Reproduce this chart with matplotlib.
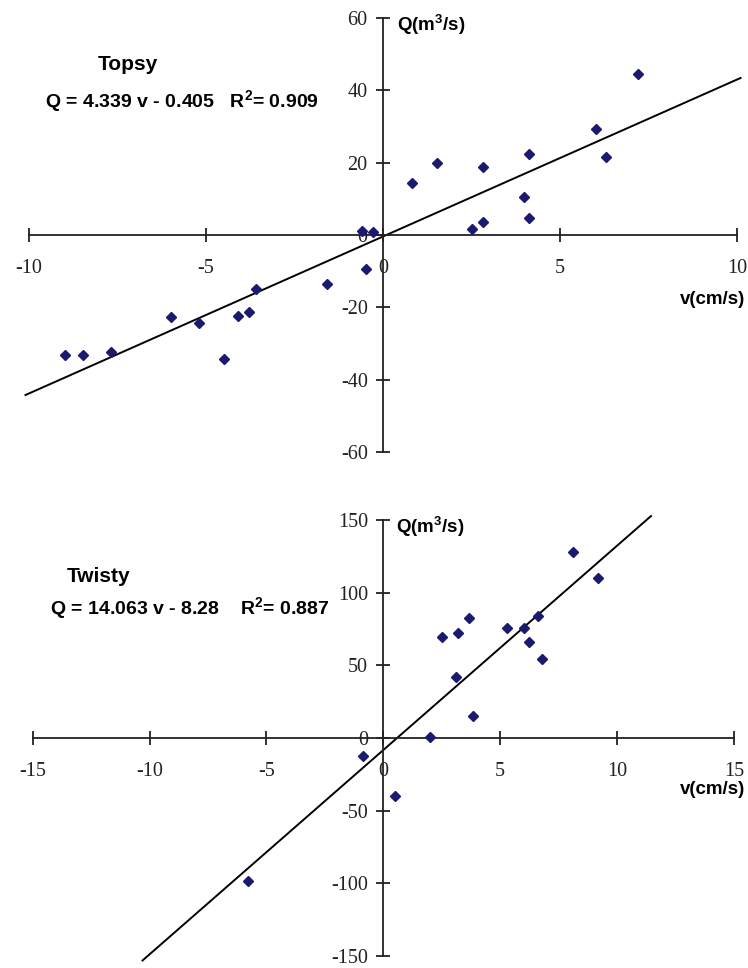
import matplotlib
matplotlib.use("Agg")
import matplotlib.pyplot as plt
import numpy as np

# Topsy data (v in cm/s, Q in m3/s)
topsy_v = [-8.98, -8.48, -7.68, -5.99, -5.20, -4.49, -4.10, -3.79, -3.59, -1.59,
           -0.49, -0.60, -0.29, 0.81, 1.52, 2.82, 2.51, 2.82, 3.99, 4.12, 4.12,
           6.01, 6.31, 7.20]
topsy_q = [-33.1, -33.3, -32.4, -22.6, -24.4, -34.3, -22.3, -21.2, -15.0, -13.6,
           -9.4, 1.2, 0.7, 14.3, 19.8, 18.9, 1.8, 3.5, 10.4, 4.7, 22.5,
           29.3, 21.6, 44.6]
topsy_fit = (4.339, -0.405)
topsy_xticks = [-10, -5, 0, 5, 10]
topsy_yticks = [-60, -40, -20, 0, 20, 40, 60]

# Twisty data
twisty_v = [-0.88, -5.79, 0.50, 2.00, 2.50, 3.21, 3.11, 3.68, 3.82, 5.28, 6.01,
            6.22, 6.62, 6.80, 8.10, 9.20]
twisty_q = [-12.2, -98.7, -40.1, 0.7, 69.4, 72.1, 41.9, 82.6, 15.3, 75.8, 75.8,
            65.7, 84.0, 54.3, 127.8, 110.3]
twisty_fit = (14.063, -8.28)
twisty_xticks = [-15, -10, -5, 0, 5, 10, 15]
twisty_yticks = [-150, -100, -50, 0, 50, 100, 150]

SERIF = "Liberation Serif"
SANS = "Liberation Sans"
MARK = "#1c1a6e"

plt.rcParams["mathtext.fontset"] = "custom"
plt.rcParams["mathtext.rm"] = "Liberation Sans:bold"
plt.rcParams["mathtext.bf"] = "Liberation Sans:bold"
plt.rcParams["mathtext.it"] = "Liberation Sans:bold"
plt.rcParams["mathtext.default"] = "rm"

fig = plt.figure(figsize=(7.48, 9.68), dpi=100)


def panel(rect, v, q, fit, xticks, yticks, fit_range):
    ax = fig.add_axes(rect)
    ax.set_xlim(xticks[0], xticks[-1])
    ax.set_ylim(yticks[0], yticks[-1])
    for s in ["top", "right"]:
        ax.spines[s].set_visible(False)
    for s in ["left", "bottom"]:
        ax.spines[s].set_position(("data", 0))
        ax.spines[s].set_linewidth(1.3)
        ax.spines[s].set_color("#222222")
    ax.set_xticks(xticks)
    ax.set_yticks(yticks)
    ax.set_xticklabels([str(t) for t in xticks], fontfamily=SERIF, fontsize=14.5)
    ax.set_yticklabels([str(t) for t in yticks], fontfamily=SERIF, fontsize=14.5)
    ax.tick_params(axis="x", direction="inout", length=10, width=1.3, pad=12,
                   colors="#222222")
    ax.tick_params(axis="y", direction="inout", length=10, width=1.3, pad=6,
                   colors="#222222")
    ax.patch.set_visible(False)
    xs = np.array(fit_range)
    ax.plot(xs, fit[0] * xs + fit[1], color="black", lw=1.4, clip_on=False, zorder=2)
    ax.plot(v, q, "D", color=MARK, ms=5, clip_on=False, zorder=3, linestyle="none")
    return ax


panel([0.0388, 0.533, 0.9465, 0.4484], topsy_v, topsy_q, topsy_fit,
      topsy_xticks, topsy_yticks, (-10.1, 10.1))
panel([0.0437, 0.0125, 0.9376, 0.4503], twisty_v, twisty_q, twisty_fit,
      twisty_xticks, twisty_yticks, (-10.3, 11.45))

# axis labels and annotations
qlabel = r"Q(m$^{3}$/s)"
fig.text(397 / 748, 1 - 25 / 968, qlabel, family=SANS, weight="bold",
         fontsize=13.5, va="center", ha="left")
fig.text(745 / 748, 1 - 299 / 968, "v(cm/s)", family=SANS, weight="bold",
         fontsize=13.5, va="center", ha="right")
fig.text(128 / 748, 1 - 65 / 968, "Topsy", family=SANS, weight="bold",
         fontsize=15, va="center", ha="center")
fig.text(45 / 748, 1 - 101 / 968, r"Q = 4.339 v - 0.405   R$^{2}$= 0.909", family=SANS,
         weight="bold", fontsize=14, va="center", ha="left")

fig.text(396 / 748, 1 - 527 / 968, qlabel, family=SANS, weight="bold",
         fontsize=13.5, va="center", ha="left")
fig.text(745 / 748, 1 - 790 / 968, "v(cm/s)", family=SANS, weight="bold",
         fontsize=13.5, va="center", ha="right")
fig.text(99 / 748, 1 - 577 / 968, "Twisty", family=SANS, weight="bold",
         fontsize=15, va="center", ha="center")
fig.text(50 / 748, 1 - 608 / 968, r"Q = 14.063 v - 8.28    R$^{2}$= 0.887", family=SANS,
         weight="bold", fontsize=14, va="center", ha="left")

fig.savefig("out.png", dpi=100)
